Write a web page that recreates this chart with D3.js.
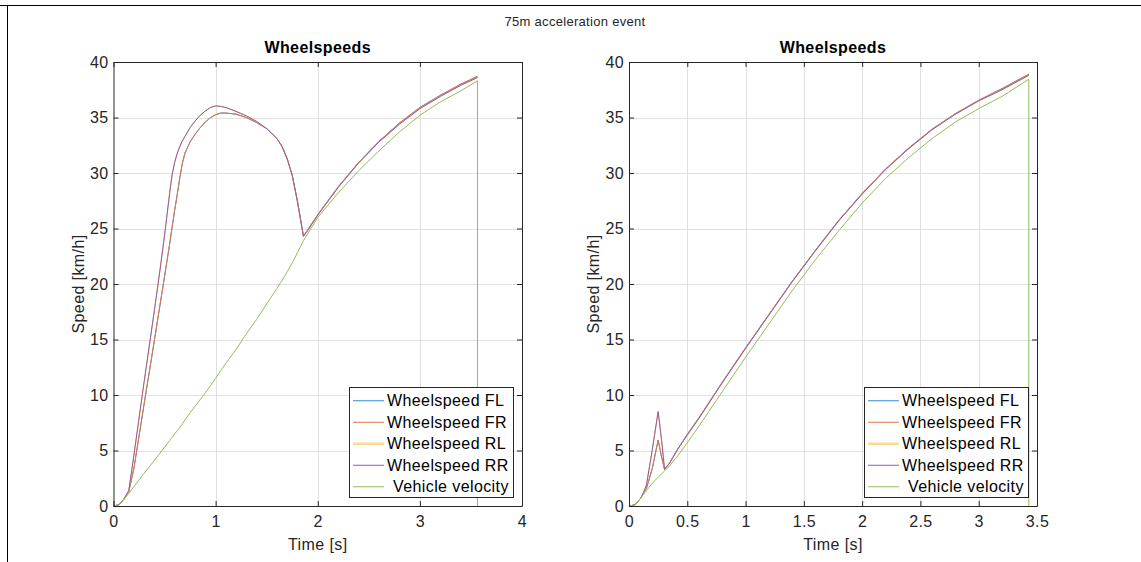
<!DOCTYPE html>
<html>
<head>
<meta charset="utf-8">
<script src="https://cdn.jsdelivr.net/npm/d3@7"></script>
<style>
  html, body { margin: 0; padding: 0; background: #fff; }
  svg { display: block; }
  text { font-family: "Liberation Sans", Arial, Helvetica, sans-serif; }
</style>
</head>
<body>
<svg id="chart" width="1141" height="562"></svg>
<script>
// ---------------- DATA ----------------
const figureTitle = "75m acceleration event";
const panelTitle = "Wheelspeeds";
const xLabel = "Time [s]";
const yLabel = "Speed [km/h]";
const seriesNames = ["Wheelspeed FL", "Wheelspeed FR", "Wheelspeed RL", "Wheelspeed RR", "Vehicle velocity"];
const seriesColors = ["#338ECA", "#E17547", "#F1C14D", "#9859A5", "#92BD59"];

const yTicks = [0, 5, 10, 15, 20, 25, 30, 35, 40];
const xTicksLeft = [0, 1, 2, 3, 4];
const xTicksRight = [0, 0.5, 1, 1.5, 2, 2.5, 3, 3.5];

// Left panel
const timeLeft = [0, 0.05, 0.1, 0.15, 0.2, 0.3, 0.4, 0.45, 0.5, 0.55, 0.575, 0.6, 0.625, 0.65, 0.675, 0.7, 0.75, 0.8, 0.85, 0.9, 0.95, 1.0, 1.05, 1.1, 1.2, 1.3, 1.4, 1.5, 1.6, 1.65, 1.7, 1.75, 1.8, 1.86, 1.9, 2.0, 2.2, 2.4, 2.6, 2.8, 3.0, 3.2, 3.4, 3.564, 3.564];
const leftFL = [0, 0.1, 0.6, 1.3, 3.4, 9.2, 14.9, 17.8, 20.7, 23.6, 25.2, 26.7, 28.1, 29.6, 30.9, 31.8, 32.8, 33.5, 34.1, 34.6, 35.0, 35.25, 35.4, 35.4, 35.3, 35.0, 34.55, 34.0, 33.1, 32.4, 31.3, 29.8, 27.5, 24.3, 24.85, 26.25, 28.75, 30.95, 32.85, 34.5, 35.9, 37.0, 38.0, 38.7, null];
const leftFR = [0, 0.1, 0.6, 1.3, 3.4, 9.2, 14.9, 17.8, 20.7, 23.6, 25.2, 26.7, 28.1, 29.6, 30.9, 31.8, 32.8, 33.5, 34.1, 34.6, 35.0, 35.25, 35.4, 35.4, 35.3, 35.0, 34.55, 34.0, 33.1, 32.4, 31.3, 29.8, 27.5, 24.3, 24.85, 26.25, 28.75, 30.95, 32.85, 34.5, 35.9, 37.0, 38.0, 38.7, null];
const leftRL = [0, 0.1, 0.6, 1.4, 4.6, 11.2, 17.6, 20.9, 24.4, 28.2, 29.9, 31.0, 31.8, 32.4, 32.9, 33.3, 34.1, 34.7, 35.2, 35.6, 35.9, 36.05, 36.0, 35.9, 35.55, 35.15, 34.65, 34.0, 33.1, 32.4, 31.3, 29.8, 27.5, 24.3, 24.8, 26.2, 28.7, 30.9, 32.8, 34.4, 35.8, 36.9, 37.9, 38.6, null];
const leftRR = [0, 0.1, 0.6, 1.4, 4.6, 11.2, 17.6, 20.9, 24.4, 28.2, 29.9, 31.0, 31.8, 32.4, 32.9, 33.3, 34.1, 34.7, 35.2, 35.6, 35.9, 36.05, 36.0, 35.9, 35.55, 35.15, 34.65, 34.0, 33.1, 32.4, 31.3, 29.8, 27.5, 24.3, 24.8, 26.2, 28.7, 30.9, 32.8, 34.4, 35.8, 36.9, 37.9, 38.6, null];
const leftVehicle = [0, 0.1, 0.55, 1.15, 1.75, 2.95, 4.1, 4.7, 5.3, 5.9, 6.2, 6.5, 6.8, 7.1, 7.4, 7.75, 8.4, 9.0, 9.6, 10.2, 10.85, 11.5, 12.2, 12.85, 14.1, 15.5, 16.8, 18.2, 19.6, 20.3, 21.1, 21.9, 22.8, 23.9, 24.5, 26.0, 28.2, 30.2, 32.0, 33.7, 35.2, 36.4, 37.4, 38.3, 0];

// Right panel
const timeRight = [0, 0.05, 0.1, 0.125, 0.15, 0.2, 0.25, 0.28, 0.305, 0.35, 0.4, 0.42, 0.5, 0.6, 0.8, 1.0, 1.2, 1.4, 1.6, 1.8, 2.0, 2.2, 2.4, 2.6, 2.8, 3.0, 3.2, 3.43, 3.43];
const rightFL = [0, 0.1, 0.7, 1.2, 1.6, 3.4, 5.95, 4.4, 3.3, 3.9, 4.8, 5.15, 6.45, 7.95, 11.15, 14.25, 17.25, 20.25, 23.05, 25.75, 28.15, 30.35, 32.25, 33.95, 35.35, 36.55, 37.6, 38.9, null];
const rightFR = [0, 0.1, 0.7, 1.2, 1.6, 3.4, 5.95, 4.4, 3.3, 3.9, 4.8, 5.15, 6.45, 7.95, 11.15, 14.25, 17.25, 20.25, 23.05, 25.75, 28.15, 30.35, 32.25, 33.95, 35.35, 36.55, 37.6, 38.9, null];
const rightRL = [0, 0.1, 0.7, 1.2, 1.9, 5.1, 8.5, 5.9, 3.3, 3.9, 4.8, 5.15, 6.4, 7.9, 11.1, 14.2, 17.2, 20.2, 23.0, 25.7, 28.1, 30.3, 32.2, 33.9, 35.3, 36.5, 37.5, 38.8, null];
const rightRR = [0, 0.1, 0.7, 1.2, 1.9, 5.1, 8.5, 5.9, 3.3, 3.9, 4.8, 5.15, 6.4, 7.9, 11.1, 14.2, 17.2, 20.2, 23.0, 25.7, 28.1, 30.3, 32.2, 33.9, 35.3, 36.5, 37.5, 38.8, null];
const rightVehicle = [0, 0.1, 0.7, 1.05, 1.4, 2.05, 2.6, 2.9, 3.15, 3.65, 4.3, 4.55, 5.7, 7.2, 10.3, 13.4, 16.4, 19.4, 22.2, 24.8, 27.3, 29.5, 31.4, 33.1, 34.6, 35.8, 36.9, 38.45, 0];

// ---------------- DRAW ----------------
const svg = d3.select("#chart");
svg.append("rect").attr("width", 1141).attr("height", 562).attr("fill", "#fff");

// figure frame
svg.append("line").attr("x1", 0).attr("x2", 1141).attr("y1", 5.5).attr("y2", 5.5).attr("stroke", "#000").attr("stroke-width", 1);
svg.append("line").attr("x1", 7.5).attr("x2", 7.5).attr("y1", 5).attr("y2", 562).attr("stroke", "#000").attr("stroke-width", 1);

svg.append("text").attr("x", 575).attr("y", 26).attr("text-anchor", "middle")
  .attr("font-size", 13).attr("letter-spacing", 0.3).attr("fill", "#262626").text(figureTitle);

const axisColor = "#262626";
const gridColor = "#e1e1e1";
const LS = 0.4; // letter spacing

function drawPanel(cfg) {
  const { left, right, top, bottom, xMax, xTicks, time, series } = cfg;
  const x = d3.scaleLinear().domain([0, xMax]).range([left, right]);
  const y = d3.scaleLinear().domain([0, 40]).range([bottom, top]);
  const g = svg.append("g");

  // grid
  g.append("g").selectAll("line").data(xTicks.filter(t => t > 0 && t < xMax)).join("line")
    .attr("x1", d => Math.round(x(d)) + 0.5).attr("x2", d => Math.round(x(d)) + 0.5)
    .attr("y1", top).attr("y2", bottom).attr("stroke", gridColor).attr("stroke-width", 1);
  g.append("g").selectAll("line").data(yTicks.filter(t => t > 0 && t < 40)).join("line")
    .attr("y1", d => Math.round(y(d)) + 0.5).attr("y2", d => Math.round(y(d)) + 0.5)
    .attr("x1", left).attr("x2", right).attr("stroke", gridColor).attr("stroke-width", 1);

  // series
  const line = d3.line().defined(d => d[1] != null).x(d => x(d[0])).y(d => y(d[1]));
  series.forEach((vals, i) => {
    const pts = time.map((t, k) => [t, vals[k]]);
    g.append("path").datum(pts).attr("d", line).attr("fill", "none")
      .attr("stroke", seriesColors[i]).attr("stroke-width", 1)
      .attr("stroke-linejoin", "round");
  });

  // axes (ticks inside)
  const xb = g.append("g").attr("transform", `translate(0,${bottom})`)
    .call(d3.axisBottom(x).tickValues(xTicks).tickSizeInner(-5).tickSizeOuter(0).tickPadding(10).tickFormat(d => String(d)));
  const xt = g.append("g").attr("transform", `translate(0,${top})`)
    .call(d3.axisTop(x).tickValues(xTicks).tickSizeInner(-5).tickSizeOuter(0).tickFormat(""));
  const yl = g.append("g").attr("transform", `translate(${left},0)`)
    .call(d3.axisLeft(y).tickValues(yTicks).tickSizeInner(-5).tickSizeOuter(0).tickPadding(5).tickFormat(d => String(d)));
  const yr = g.append("g").attr("transform", `translate(${right},0)`)
    .call(d3.axisRight(y).tickValues(yTicks).tickSizeInner(-5).tickSizeOuter(0).tickFormat(""));
  [xb, xt, yl, yr].forEach(a => {
    a.select(".domain").attr("stroke", axisColor).attr("stroke-width", 1);
    a.selectAll(".tick line").attr("stroke", axisColor);
    a.selectAll(".tick text").attr("fill", axisColor).attr("font-size", 16).attr("letter-spacing", LS)
      .attr("font-family", '"Liberation Sans", Arial, sans-serif');
  });
  xb.selectAll(".tick text").attr("dy", "0.71em");

  // titles & labels
  g.append("text").attr("x", (left + right) / 2).attr("y", 53).attr("text-anchor", "middle")
    .attr("font-size", 16).attr("font-weight", "bold").attr("letter-spacing", LS).attr("fill", "#000").text(panelTitle);
  g.append("text").attr("x", (left + right) / 2).attr("y", 550).attr("text-anchor", "middle")
    .attr("font-size", 16).attr("letter-spacing", LS).attr("fill", axisColor).text(xLabel);
  g.append("text").attr("transform", `translate(${left - 30},${(top + bottom) / 2}) rotate(-90)`)
    .attr("text-anchor", "middle").attr("font-size", 16).attr("letter-spacing", LS).attr("fill", axisColor).text(yLabel);

  // legend
  const lx = right - 173, ly = 387, lw = 164, lh = 110, rowH = 21.5;
  const lg = g.append("g");
  lg.append("rect").attr("x", lx + 0.5).attr("y", ly + 0.5).attr("width", lw).attr("height", lh)
    .attr("fill", "#fff").attr("stroke", axisColor).attr("stroke-width", 1);
  seriesNames.forEach((name, i) => {
    const cy = ly + 3 + rowH * (i + 0.5);
    lg.append("line").attr("x1", lx + 4).attr("x2", lx + 35).attr("y1", cy).attr("y2", cy)
      .attr("stroke", seriesColors[i]).attr("stroke-width", i === 2 ? 2.5 : 1)
      .attr("stroke-opacity", i === 2 ? 0.6 : 1);
    lg.append("text").attr("x", lx + (i === 4 ? 44 : 38)).attr("y", cy).attr("dy", "0.35em")
      .attr("font-size", 16).attr("letter-spacing", LS).attr("fill", "#000").text(name);
  });
}

drawPanel({ left: 113.5, right: 522, top: 62, bottom: 506, xMax: 4, xTicks: xTicksLeft, time: timeLeft,
  series: [leftFL, leftFR, leftRL, leftRR, leftVehicle] });
drawPanel({ left: 629, right: 1037, top: 62, bottom: 506, xMax: 3.5, xTicks: xTicksRight, time: timeRight,
  series: [rightFL, rightFR, rightRL, rightRR, rightVehicle] });
</script>
</body>
</html>
